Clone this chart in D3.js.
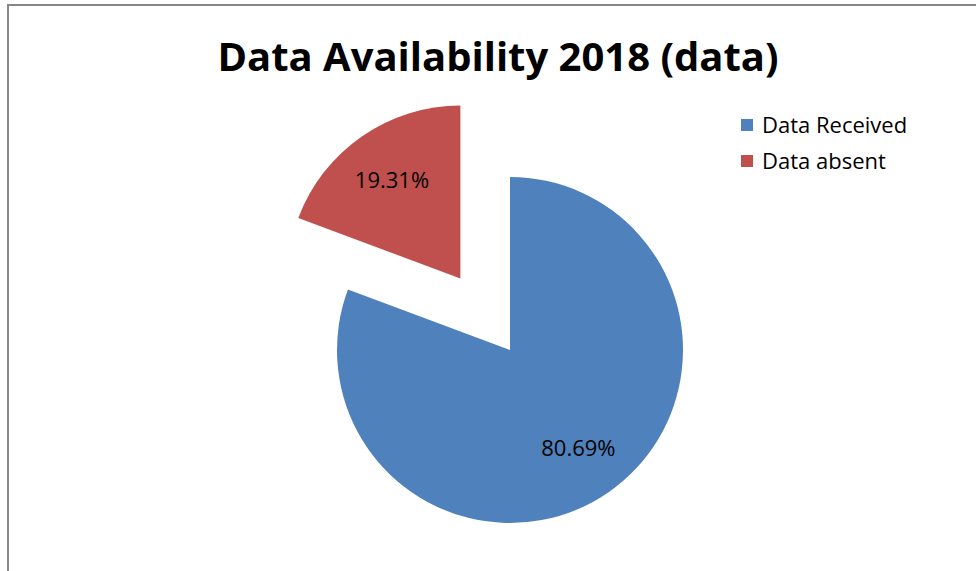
<!DOCTYPE html>
<html>
<head>
<meta charset="utf-8">
<script src="https://cdn.jsdelivr.net/npm/d3@7"></script>
<style>
  body { margin: 0; background: #fff; }
  svg { display: block; font-family: "Open Sans", "Noto Sans", sans-serif; }
</style>
</head>
<body>
<div class="container"></div>
<script>
"use strict";

var categories = ["Data Received", "Data absent"];
var values = [80.69, 19.31];
var colors = ["#4f81bd", "#c0504d"];
var exploded = [0, 87];

var w = 976, h = 571;
var cx = 510, cy = 350, r = 173;

var svg = d3.select(".container").append("svg").attr("width", w).attr("height", h);

//Chart border (only top and left visible)
svg.append("rect").attr("x", 8).attr("y", 5).attr("width", w + 20).attr("height", h + 20)
  .attr("fill", "#fff").attr("stroke", "#868686").attr("stroke-width", 2);

//Title
svg.append("text").attr("x", 498).attr("y", 71).attr("text-anchor", "middle")
  .style("font-size", "40px").style("font-weight", "bold").text("Data Availability 2018 (data)");

var pie = d3.pie().sort(null).value(function (d) { return d; });
var arc = d3.arc().innerRadius(0).outerRadius(r);
var labelArc = d3.arc().innerRadius(120).outerRadius(120);
var arcs = pie(values);

var g = svg.append("g").attr("transform", "translate(" + cx + "," + cy + ")");

var slices = g.selectAll("g.slice").data(arcs).enter().append("g").attr("class", "slice")
  .attr("transform", function (d, i) {
    var a = (d.startAngle + d.endAngle) / 2;
    return "translate(" + (Math.sin(a) * exploded[i]) + "," + (-Math.cos(a) * exploded[i]) + ")";
  });

slices.append("path").attr("d", arc).attr("fill", function (d, i) { return colors[i]; });

slices.append("text").attr("transform", function (d) {
    var c = labelArc.centroid(d);
    return "translate(" + c[0] + "," + c[1] + ")";
  }).attr("text-anchor", "middle").attr("dy", "0.35em")
  .style("font-size", "22px").text(function (d) { return d.value.toFixed(2) + "%"; });

//Legend
var legend = svg.selectAll("g.legend").data(categories).enter().append("g").attr("class", "legend")
  .attr("transform", function (d, i) { return "translate(741," + (119 + i * 36) + ")"; });
legend.append("rect").attr("width", 12).attr("height", 12).attr("fill", function (d, i) { return colors[i]; });
legend.append("text").attr("x", 21).attr("y", 6).attr("dy", "0.35em")
  .style("font-size", "22px").text(function (d) { return d; });
</script>
</body>
</html>
